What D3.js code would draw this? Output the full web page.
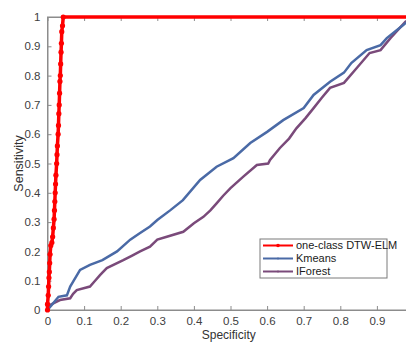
<!DOCTYPE html>
<html>
<head>
<meta charset="utf-8">
<script src="https://cdn.jsdelivr.net/npm/d3@7"></script>
<style>
  body { margin: 0; background: #fff; }
  svg { display: block; font-family: "Liberation Sans", Arial, sans-serif; }
  .axis path, .axis line { stroke: #8c8c8c; }
  .axis text { fill: #404040; font-size: 11.5px; }
</style>
</head>
<body>
<div id="chart"></div>
<script>
// ROC curves, [specificity, sensitivity]
const dtwElm = [
  [0, 0], [0, 0.02], [0.002, 0.05], [0.003, 0.08], [0.004, 0.11], [0.005, 0.13],
  [0.006, 0.16], [0.007, 0.19], [0.009, 0.22], [0.012, 0.23], [0.014, 0.25],
  [0.016, 0.28], [0.018, 0.31], [0.019, 0.34], [0.02, 0.37], [0.021, 0.4],
  [0.022, 0.43], [0.023, 0.46], [0.025, 0.5], [0.026, 0.53], [0.027, 0.56],
  [0.029, 0.6], [0.03, 0.63], [0.031, 0.67], [0.032, 0.7], [0.033, 0.74],
  [0.034, 0.78], [0.035, 0.8], [0.036, 0.84], [0.037, 0.88], [0.038, 0.91],
  [0.039, 0.95], [0.041, 0.97], [0.043, 1], [1, 1]
];

const kmeans = [
  [0, 0], [0.01, 0.015], [0.02, 0.03], [0.03, 0.045], [0.053, 0.05], [0.062, 0.08],
  [0.07, 0.097], [0.089, 0.137], [0.116, 0.154], [0.15, 0.17], [0.19, 0.2],
  [0.226, 0.24], [0.253, 0.263], [0.28, 0.285], [0.3, 0.307], [0.335, 0.34],
  [0.37, 0.375], [0.417, 0.444], [0.462, 0.489], [0.508, 0.518], [0.554, 0.57],
  [0.6, 0.608], [0.644, 0.648], [0.7, 0.689], [0.727, 0.734], [0.772, 0.779],
  [0.81, 0.81], [0.83, 0.843], [0.872, 0.887], [0.91, 0.904], [0.927, 0.928],
  [0.972, 0.973], [1, 1]
];

const iforest = [
  [0, 0], [0.007, 0.017], [0.02, 0.025], [0.034, 0.034], [0.062, 0.04], [0.07, 0.055],
  [0.08, 0.068], [0.116, 0.08], [0.13, 0.1], [0.144, 0.12], [0.162, 0.143],
  [0.207, 0.17], [0.23, 0.185], [0.253, 0.2], [0.28, 0.216], [0.3, 0.24],
  [0.326, 0.25], [0.371, 0.267], [0.4, 0.296], [0.426, 0.318], [0.445, 0.34],
  [0.462, 0.364], [0.48, 0.39], [0.5, 0.416], [0.535, 0.455], [0.572, 0.495],
  [0.603, 0.5], [0.608, 0.512], [0.635, 0.553], [0.66, 0.585], [0.68, 0.62],
  [0.705, 0.655], [0.727, 0.689], [0.75, 0.725], [0.772, 0.758], [0.81, 0.775],
  [0.845, 0.826], [0.88, 0.877], [0.91, 0.887], [0.937, 0.928], [0.978, 0.984], [1, 1]
];

const seriesNames = ['one-class DTW-ELM', 'Kmeans', 'IForest'];
const seriesColors = ['#ff0000', '#4a6aa6', '#7a4a7a'];
const xTicks = [0, 0.1, 0.2, 0.3, 0.4, 0.5, 0.6, 0.7, 0.8, 0.9];
const yTicks = [0, 0.1, 0.2, 0.3, 0.4, 0.5, 0.6, 0.7, 0.8, 0.9, 1];

const width = 406;
const height = 342;
const margin = { top: 17, left: 47.5, bottom: 32 };
// the plot box runs past the right edge of the picture
const plotRight = margin.left + 366;

const svg = d3.select('#chart')
  .append('svg')
  .attr('width', width)
  .attr('height', height);

const gx = d3.scaleLinear().domain([0, 1]).range([margin.left, plotRight]);
const gy = d3.scaleLinear().domain([0, 1]).range([height - margin.bottom, margin.top]);

const fmt = d => d === 0 || d === 1 ? String(d) : d.toFixed(1);

// box
svg.append('rect')
  .attr('x', gx(0))
  .attr('y', gy(1))
  .attr('width', gx(1) - gx(0))
  .attr('height', gy(0) - gy(1))
  .attr('fill', 'none')
  .attr('stroke', '#8c8c8c');

svg.append('g')
  .attr('class', 'axis')
  .attr('transform', `translate(0,${gy(0)})`)
  .call(d3.axisBottom(gx).tickValues(xTicks).tickFormat(fmt).tickSizeInner(-4).tickSizeOuter(0).tickPadding(7));

svg.append('g')
  .attr('class', 'axis')
  .attr('transform', `translate(0,${gy(1)})`)
  .call(d3.axisTop(gx).tickValues(xTicks).tickFormat('').tickSizeInner(-4).tickSizeOuter(0));

svg.append('g')
  .attr('class', 'axis')
  .attr('transform', `translate(${gx(0)},0)`)
  .call(d3.axisLeft(gy).tickValues(yTicks).tickFormat(fmt).tickSizeInner(-4).tickSizeOuter(0).tickPadding(7));

svg.selectAll('.axis .domain').attr('stroke', '#8c8c8c');

// axis labels
svg.append('text')
  .attr('x', (gx(0) + width) / 2 + 2)
  .attr('y', 339)
  .attr('text-anchor', 'middle')
  .attr('fill', '#333')
  .attr('font-size', 12)
  .text('Specificity');

svg.append('text')
  .attr('transform', `translate(23,${(gy(0) + gy(1)) / 2}) rotate(-90)`)
  .attr('text-anchor', 'middle')
  .attr('fill', '#333')
  .attr('font-size', 12.5)
  .text('Sensitivity');

const line = d3.line()
  .x(d => gx(d[0]))
  .y(d => gy(d[1]));

const plot = svg.append('g');

plot.append('path')
  .datum(iforest)
  .attr('fill', 'none')
  .attr('stroke', seriesColors[2])
  .attr('stroke-width', 2.5)
  .attr('d', line);

plot.append('path')
  .datum(kmeans)
  .attr('fill', 'none')
  .attr('stroke', seriesColors[1])
  .attr('stroke-width', 2.5)
  .attr('d', line);

plot.append('path')
  .datum(dtwElm)
  .attr('fill', 'none')
  .attr('stroke', seriesColors[0])
  .attr('stroke-width', 3.5)
  .attr('d', line);

plot.selectAll('.dot')
  .data(dtwElm.slice(0, -1))
  .enter()
  .append('circle')
  .attr('class', 'dot')
  .attr('cx', d => gx(d[0]))
  .attr('cy', d => gy(d[1]))
  .attr('r', 2.6)
  .attr('fill', seriesColors[0]);

// legend
const legend = svg.append('g').attr('transform', 'translate(260,239)');

legend.append('rect')
  .attr('width', 127)
  .attr('height', 39)
  .attr('fill', '#fff')
  .attr('stroke', '#7a7a7a');

seriesNames.forEach((name, i) => {
  const y = 6.5 + i * 13;
  legend.append('line')
    .attr('x1', 3).attr('x2', 33)
    .attr('y1', y).attr('y2', y)
    .attr('stroke', seriesColors[i])
    .attr('stroke-width', 2);
  legend.append('circle')
    .attr('cx', 18).attr('cy', y)
    .attr('r', i === 0 ? 1.8 : 0.9)
    .attr('fill', seriesColors[i]);
  legend.append('text')
    .attr('x', 36)
    .attr('y', y + 3.8)
    .attr('font-size', 11)
    .attr('fill', '#1a1a1a')
    .text(name);
});
</script>
</body>
</html>
